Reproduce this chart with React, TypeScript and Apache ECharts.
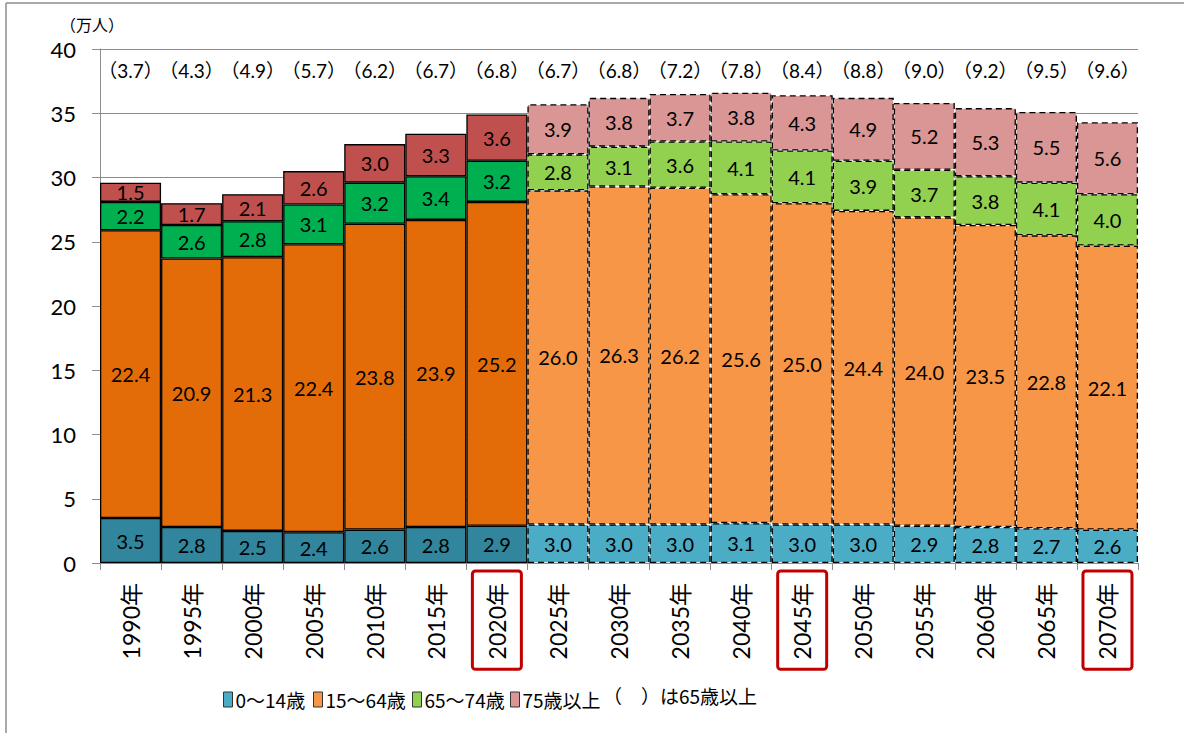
import React, { useEffect, useRef } from "react";
import * as echarts from "echarts";

const years = [
  "1990年", "1995年", "2000年", "2005年", "2010年", "2015年", "2020年",
  "2025年", "2030年", "2035年", "2040年", "2045年", "2050年", "2055年",
  "2060年", "2065年", "2070年",
];
const lastActualYear = "2020年";
const highlightedYears = ["2020年", "2045年", "2070年"];

const age0to14 = [3.5, 2.8, 2.5, 2.4, 2.6, 2.8, 2.9, 3.0, 3.0, 3.0, 3.1, 3.0, 3.0, 2.9, 2.8, 2.7, 2.6];
const age15to64 = [22.4, 20.9, 21.3, 22.4, 23.8, 23.9, 25.2, 26.0, 26.3, 26.2, 25.6, 25.0, 24.4, 24.0, 23.5, 22.8, 22.1];
const age65to74 = [2.2, 2.6, 2.8, 3.1, 3.2, 3.4, 3.2, 2.8, 3.1, 3.6, 4.1, 4.1, 3.9, 3.7, 3.8, 4.1, 4.0];
const age75plus = [1.5, 1.7, 2.1, 2.6, 3.0, 3.3, 3.6, 3.9, 3.8, 3.7, 3.8, 4.3, 4.9, 5.2, 5.3, 5.5, 5.6];
const age65plus = [3.7, 4.3, 4.9, 5.7, 6.2, 6.7, 6.8, 6.7, 6.8, 7.2, 7.8, 8.4, 8.8, 9.0, 9.2, 9.5, 9.6];

const seriesNames = ["0～14歳", "15～64歳", "65～74歳", "75歳以上"];
const seriesValues = [age0to14, age15to64, age65to74, age75plus];
const actualColors = ["#31859C", "#E36C09", "#00B050", "#C0504D"];
const projectedColors = ["#4BACC6", "#F79646", "#92D050", "#D99694"];

const yMin = 0;
const yMax = 40;
const yInterval = 5;
const unitLabel = "（万人）";
const noteLabel = "（　）は65歳以上";

const legendLefts = [223, 313, 412, 510];

const FONT = "Lato, 'Noto Sans CJK JP', sans-serif";
const CJK = "'Noto Sans CJK JP', sans-serif";

export default function App() {
  const ref = useRef<HTMLDivElement>(null);

  useEffect(() => {
    if (!ref.current) return;
    const chart = echarts.init(ref.current, undefined, { renderer: "svg" });
    const actualCount = years.indexOf(lastActualYear) + 1;

    const series = seriesNames.map((name, si) => ({
      name,
      type: "bar",
      stack: "total",
      barCategoryGap: "0%",
      xAxisIndex: 0,
      itemStyle: {
        color: projectedColors[si],
        borderColor: "#000",
        borderWidth: 1.3,
        borderType: [6, 4],
      },
      label: {
        show: true,
        position: "inside",
        color: "#000",
        fontFamily: FONT,
        fontSize: 20,
        formatter: (p: any) => Number(p.value).toFixed(1),
      },
      data: seriesValues[si].map((v, i) =>
        i < actualCount
          ? {
              value: v,
              itemStyle: {
                color: actualColors[si],
                borderColor: "#000",
                borderWidth: 1.3,
                borderType: "solid",
              },
            }
          : { value: v }
      ),
    }));

    const legends = seriesNames.map((name, i) => ({
      data: [name],
      left: legendLefts[i],
      top: 690,
      padding: 0,
      icon: "rect",
      itemWidth: 9,
      itemHeight: 15,
      itemGap: 0,
      itemStyle: { borderColor: "#333", borderWidth: 1, borderType: "solid" },
      textStyle: { fontFamily: CJK, fontSize: 19, color: "#000", padding: [0, 0, 0, -2] },
    }));

    chart.setOption({
      animation: false,
      backgroundColor: "#fff",
      grid: { left: 100, right: 46, top: 49, bottom: 170 },
      legend: legends,
      xAxis: [
        {
          type: "category",
          data: years,
          position: "bottom",
          axisLine: { lineStyle: { color: "#8c8c8c", width: 1 } },
          axisTick: { show: true, length: 7, lineStyle: { color: "#8c8c8c" } },
          axisLabel: {
            rotate: 90,
            margin: 8,
            interval: 0,
            formatter: (v: string) =>
              highlightedYears.includes(v) ? `{hl|${v}}` : `{n|${v}}`,
            rich: {
              hl: {
                fontFamily: FONT,
                fontSize: 23,
                color: "#000",
                lineHeight: 24,
                borderColor: "#C00000",
                borderWidth: 3,
                borderRadius: 3,
                padding: [13, 12, 13, 10],
              },
              n: {
                fontFamily: FONT,
                fontSize: 23,
                color: "#000",
                lineHeight: 24,
                padding: [13, 12, 13, 10],
              },
            },
          },
        },
        {
          type: "category",
          data: age65plus.map((v) => `（${v.toFixed(1)}）`),
          position: "top",
          axisLine: { show: false },
          axisTick: { show: false },
          axisLabel: {
            inside: true,
            margin: 12,
            interval: 0,
            color: "#000",
            fontFamily: FONT,
            fontSize: 19,
          },
        },
      ],
      yAxis: {
        type: "value",
        min: yMin,
        max: yMax,
        interval: yInterval,
        axisLine: { show: true, lineStyle: { color: "#8c8c8c", width: 1 } },
        axisTick: { show: true, length: 8, lineStyle: { color: "#8c8c8c" } },
        splitLine: { show: true, lineStyle: { color: "#8c8c8c", width: 1 } },
        axisLabel: {
          margin: 24,
          color: "#000",
          fontFamily: FONT,
          fontSize: 22,
        },
      },
      graphic: [
        {
          type: "line",
          shape: { x1: 6, y1: 3, x2: 1184, y2: 3 },
          style: { stroke: "#8c8c8c", lineWidth: 1.5 },
        },
        {
          type: "line",
          shape: { x1: 6, y1: 3, x2: 6, y2: 733 },
          style: { stroke: "#8c8c8c", lineWidth: 1.5 },
        },
        {
          type: "text",
          left: 60,
          top: 16,
          style: { text: unitLabel, font: `16px ${CJK}`, fill: "#000" },
        },
        {
          type: "text",
          left: 603,
          top: 686,
          style: { text: noteLabel, font: `19px ${CJK}`, fill: "#000" },
        },
      ],
      series,
    });

    return () => chart.dispose();
  }, []);

  return (
    <div
      ref={ref}
      style={{ position: "fixed", left: 0, top: 0, width: 1184, height: 733, background: "#fff" }}
    />
  );
}
